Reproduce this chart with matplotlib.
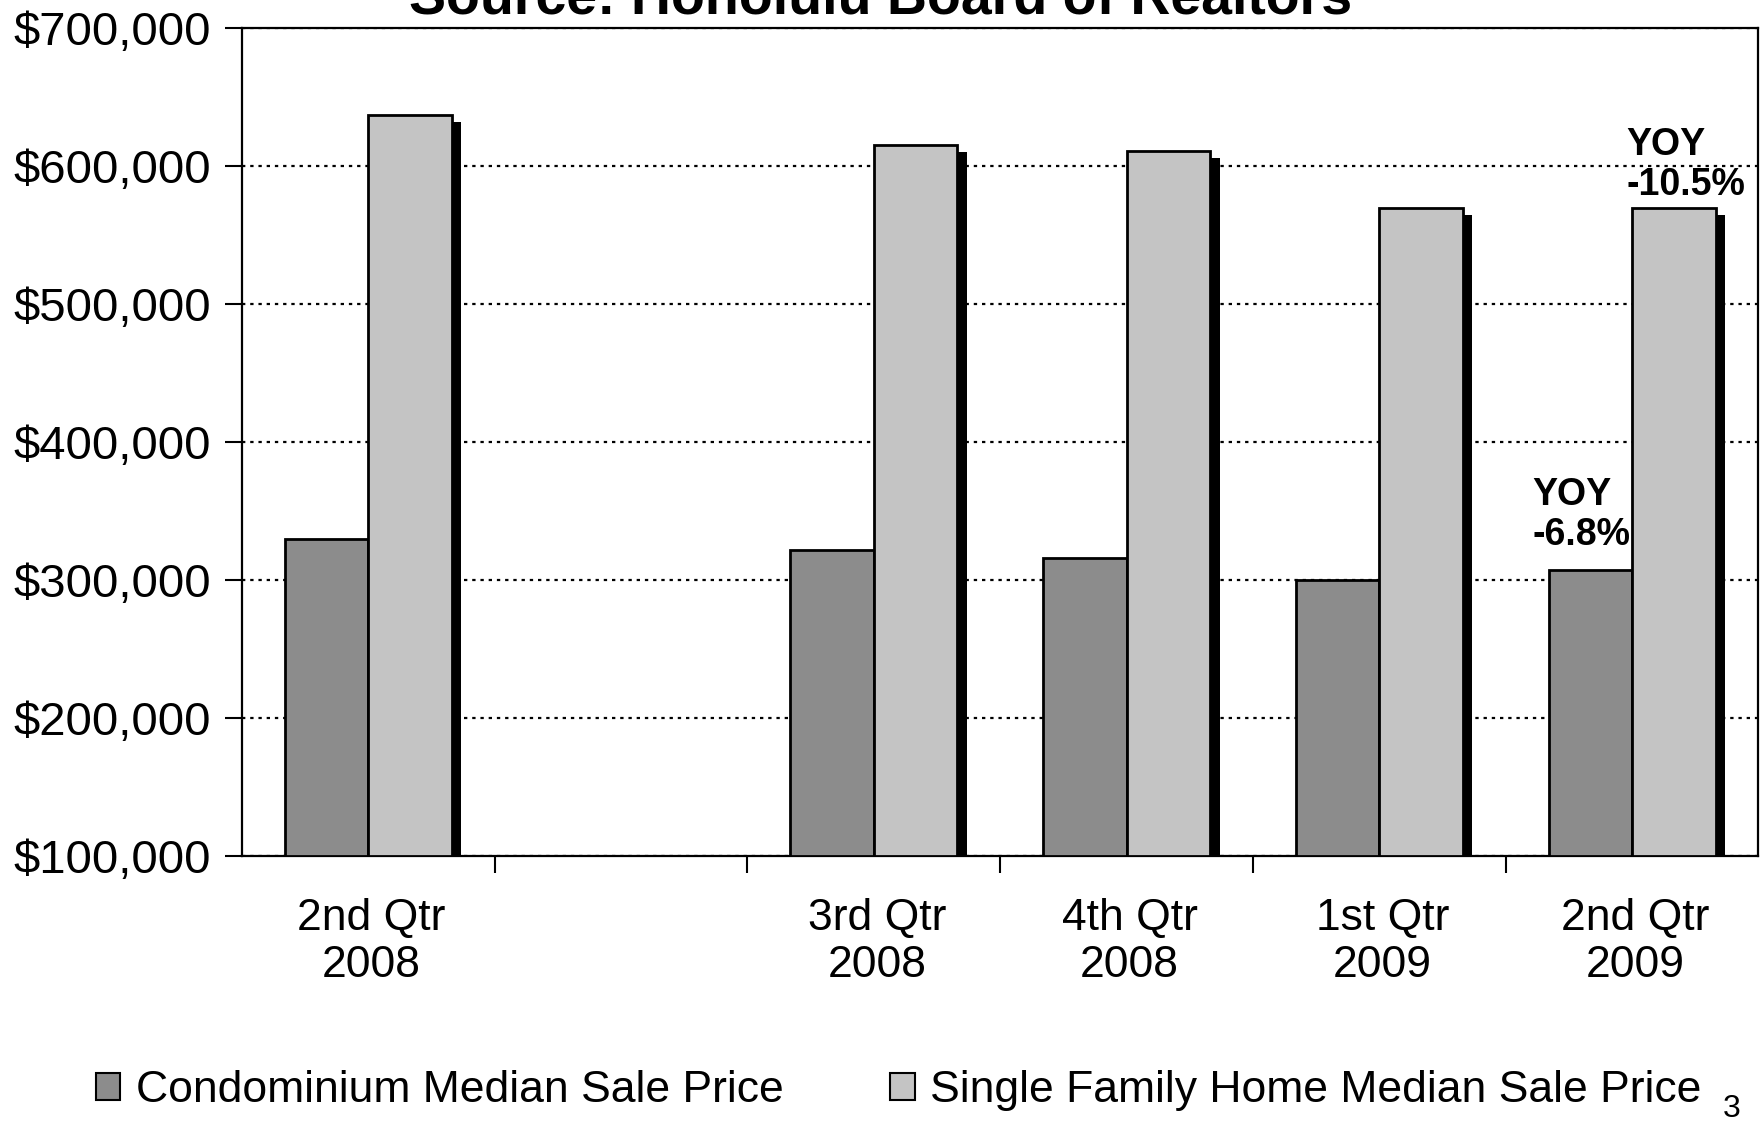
import numpy as np
import matplotlib
matplotlib.use("Agg")
import matplotlib.pyplot as plt
import matplotlib.patheffects as pe
from matplotlib.patches import Patch
from matplotlib.ticker import FuncFormatter, FixedLocator

plt.rcParams['font.family'] = ['Liberation Sans', 'DejaVu Sans']

# quarters (one empty slot between 2nd Qtr 2008 and 3rd Qtr 2008)
quarters = ["2nd Qtr\n2008", "", "3rd Qtr\n2008", "4th Qtr\n2008", "1st Qtr\n2009", "2nd Qtr\n2009"]
condo = [330000, None, 322000, 316000, 300000, 307500]
single_family = [637000, None, 615000, 611000, 570000, 570000]
series_names = ["Condominium Median Sale Price", "Single Family Home Median Sale Price"]
yoy_notes = ["YOY\n-6.8%", "YOY\n-10.5%"]
colors = ['#8c8c8c', '#c4c4c4']

fig = plt.figure(figsize=(17.62, 11.29), dpi=100)
ax = fig.add_axes([0.1373, 0.2418, 0.8607, 0.7332])

x = np.arange(len(quarters))
idx = [i for i, v in enumerate(condo) if v is not None]
w = 0.33
shadow = [pe.SimplePatchShadow(offset=(7, -5), shadow_rgbFace='black', alpha=1.0), pe.Normal()]

ax.bar(x[idx] - w / 2, [condo[i] - 100000 for i in idx], w, bottom=100000,
       color=colors[0], edgecolor='black', linewidth=2,
       path_effects=shadow, zorder=3)
ax.bar(x[idx] + w / 2, [single_family[i] - 100000 for i in idx], w, bottom=100000,
       color=colors[1], edgecolor='black', linewidth=2,
       path_effects=shadow, zorder=4)

ax.set_xlim(-0.5, len(quarters) - 0.5)
ax.set_ylim(100000, 700000)
ax.set_yticks(np.arange(100000, 700001, 100000))
ax.yaxis.set_major_formatter(FuncFormatter(lambda v, p: f"${v:,.0f}"))
ax.tick_params(axis='y', labelsize=34, length=12, width=1.5, pad=10)

ax.set_xticks(x + 0.012)
ax.set_xticklabels(quarters)
ax.tick_params(axis='x', which='major', labelsize=32, length=0, pad=30)
ax.xaxis.set_minor_locator(FixedLocator(np.arange(0.5, len(quarters) - 0.5, 1)))
ax.tick_params(axis='x', which='minor', length=12, width=1.5, direction='out')

ax.yaxis.grid(True, color='black', linestyle=(0, (1.5, 2.2)), linewidth=1.6)
ax.set_axisbelow(True)
for s in ax.spines.values():
    s.set_linewidth(1.6)

# YOY annotations
last = len(quarters) - 1
ax.text(last - 0.396, 347000, yoy_notes[0], fontsize=27, fontweight='bold',
        ha='left', va='center', linespacing=1.15, zorder=5)
ax.text(last - 0.022, 601000, yoy_notes[1], fontsize=27, fontweight='bold',
        ha='left', va='center', linespacing=1.15, zorder=5)

fig.text(0.5, 0.988, "Source: Honolulu Board of Realtors", fontsize=40,
         fontweight='bold', ha='center', va='baseline')

handles = [Patch(facecolor=c, edgecolor='black', linewidth=1.5) for c in colors]
fig.legend(handles, series_names, loc='center', bbox_to_anchor=(0.51, 0.034), ncol=2,
           frameon=False, fontsize=32, handlelength=0.55, handleheight=0.55,
           handletextpad=0.35, columnspacing=2.4)

fig.text(0.983, 0.004, "3", fontsize=23, ha='center', va='bottom')

fig.savefig("out.png", dpi=100)
